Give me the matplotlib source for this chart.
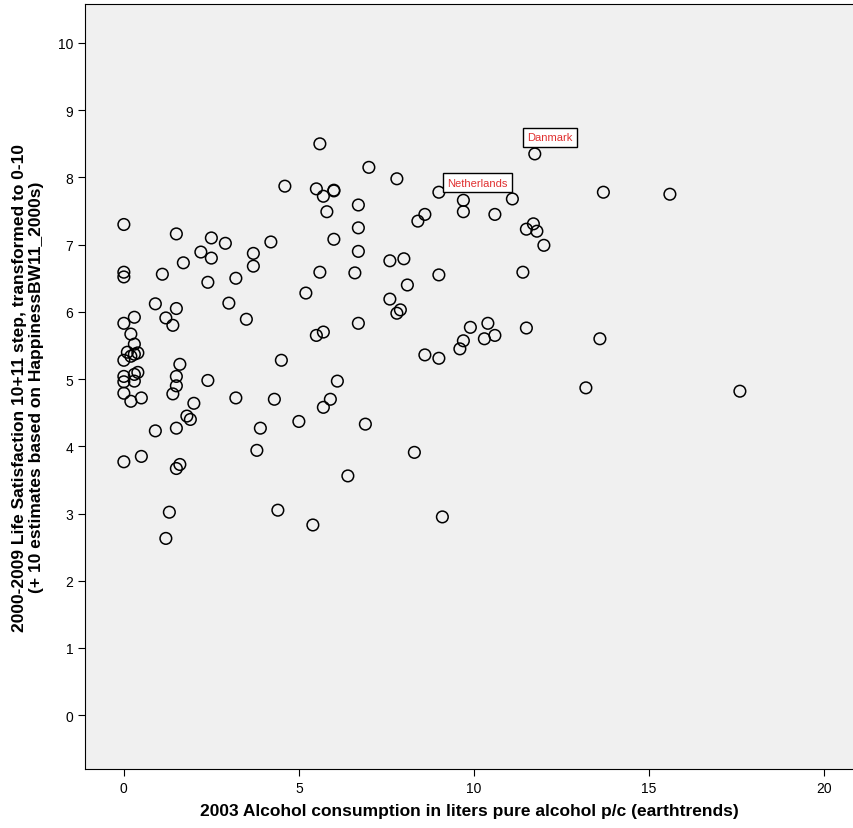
import matplotlib
matplotlib.use("Agg")
import matplotlib.pyplot as plt

alcohol = [0.0,1.5,2.5,2.9,2.2,2.5,3.7,3.7,4.2,0.0,0.0,1.7,1.1,2.4,3.2,0.9,1.5,1.2,1.4,3.0,3.5,0.3,0.0,0.2,0.3,0.1,0.4,0.3,0.2,0.0,1.6,4.5,0.4,0.3,0.3,0.0,0.0,1.5,1.5,1.4,2.4,0.0,0.2,0.5,2.0,1.8,1.9,3.2,4.3,0.9,1.5,3.9,5.0,3.8,0.0,0.5,1.6,1.5,1.3,1.2,4.4,5.4,5.5,5.2,5.6,6.0,5.8,5.7,6.1,5.9,5.7,6.4,
           5.6,4.6,5.5,5.7,6.0,6.0,7.0,6.7,6.7,6.7,6.6,6.7,6.9,7.8,7.6,8.0,8.1,7.6,7.8,7.9,8.3,9.0,8.4,8.6,9.0,8.6,9.0,9.1,9.7,9.7,10.6,11.1,9.6,9.7,9.9,10.4,10.3,10.6,11.74,11.5,11.7,11.8,12.0,11.4,11.5,13.7,15.6,13.6,13.2,17.6]
satisfaction = [7.30,7.16,7.10,7.02,6.89,6.80,6.87,6.68,7.04,6.59,6.52,6.73,6.56,6.44,6.50,6.12,6.05,5.91,5.80,6.13,5.89,5.92,5.83,5.67,5.52,5.40,5.39,5.37,5.34,5.28,5.22,5.28,5.10,5.07,4.97,5.04,4.96,5.04,4.90,4.78,4.98,4.79,4.67,4.72,4.64,4.45,4.40,4.72,4.70,4.23,4.27,4.27,4.37,3.94,3.77,3.85,3.73,3.67,3.02,2.63,3.05,2.83,5.65,6.28,6.59,7.08,7.49,4.58,4.97,4.70,5.70,3.56,
                8.50,7.87,7.83,7.72,7.81,7.80,8.15,7.59,7.25,6.90,6.58,5.83,4.33,7.98,6.76,6.79,6.40,6.19,5.98,6.03,3.91,7.78,7.35,7.45,6.55,5.36,5.31,2.95,7.66,7.49,7.45,7.68,5.45,5.57,5.77,5.83,5.60,5.65,8.35,7.23,7.31,7.20,6.99,6.59,5.76,7.78,7.75,5.60,4.87,4.82]
labels = [("Danmark", 12.17, 8.60), ("Netherlands", 10.1, 7.92)]
xticks = [0, 5, 10, 15, 20]
yticks = list(range(0, 11))

plt.rcParams['font.family'] = ['Liberation Sans', 'DejaVu Sans']
fig = plt.figure(figsize=(8.54, 8.29), dpi=100)
ax = fig.add_axes([85/854, 1-770/829, (854-85)/854, (770-5)/829])
ax.set_facecolor('#f0f0f0')
ax.scatter(alcohol, satisfaction, s=70, facecolors='none', edgecolors='black', linewidths=1.1, zorder=3)
ax.set_xlim(-1.11, 20.86)
ax.set_ylim(-0.80, 10.58)
ax.set_xticks(xticks)
ax.set_yticks(yticks)
ax.tick_params(direction='out', length=5, labelsize=10)
ax.set_xlabel("2003 Alcohol consumption in liters pure alcohol p/c (earthtrends)", fontsize=12.5, fontweight='bold', labelpad=6)
ax.set_ylabel("2000-2009 Life Satisfaction 10+11 step, transformed to 0-10\n(+ 10 estimates based on HappinessBW11_2000s)", fontsize=12.5, fontweight='bold', labelpad=10)
for name, x, y in labels:
    ax.text(x, y, name, ha='center', va='center', fontsize=8, color='#e03030',
            bbox=dict(boxstyle='square,pad=0.4', fc='white', ec='black', lw=1), zorder=4)
fig.savefig("out.png", dpi=100)
